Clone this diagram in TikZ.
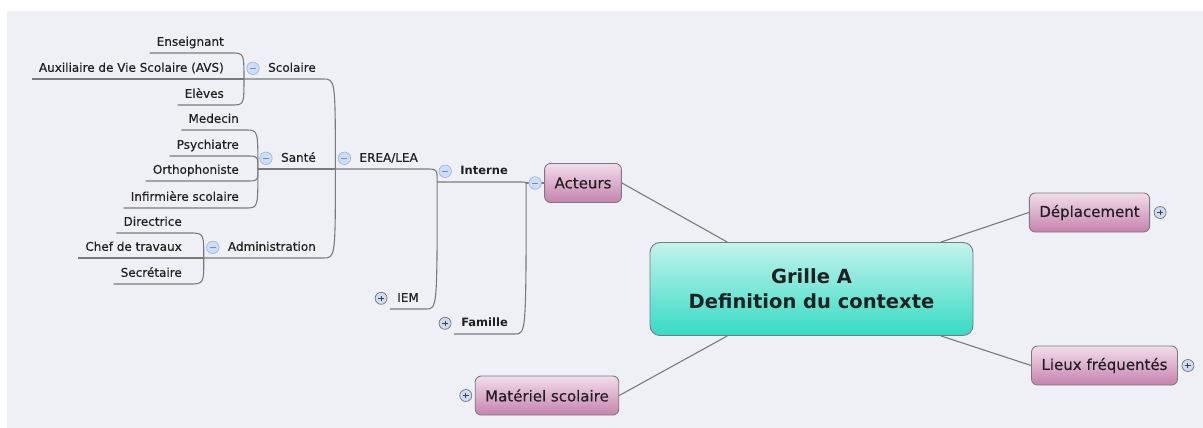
\documentclass[tikz,border=0pt]{standalone}
\usepackage{fontspec}
\setmainfont{DejaVu Sans}[UprightFeatures={FakeBold=0.3}]
\usepackage{tikz}
\usetikzlibrary{positioning, calc}
\definecolor{canvas}{HTML}{EFF0F5}
\definecolor{wire}{HTML}{7A7A7A}
\definecolor{ink}{HTML}{202020}
\definecolor{pinktop}{HTML}{F2DDEA}
\definecolor{pinkbot}{HTML}{C682AE}
\definecolor{tealtop}{HTML}{C2F3EC}
\definecolor{tealbot}{HTML}{36DBC4}
\definecolor{rim}{HTML}{7A7A7A}
\definecolor{foldfill}{HTML}{CDDDF6}
\definecolor{foldedge}{HTML}{9DB7E4}
\definecolor{foldsign}{HTML}{6F8CC6}

\tikzset{
  branch/.style={draw=wire, line width=1.1pt},
  topic/.style={draw=rim, line width=0.9pt, rounded corners=6pt, top color=pinktop,
                bottom color=pinkbot, text=ink, inner xsep=10pt, minimum height=39pt,
                font=\fontsize{15}{17}\selectfont},
  central/.style={draw=rim, line width=0.9pt, rounded corners=10pt, top color=tealtop,
                  bottom color=tealbot, text=ink, minimum width=323pt, minimum height=93pt,
                  align=center, font=\fontsize{19.5}{25}\selectfont\bfseries},
  leaf/.style={inner xsep=7pt, inner ysep=5pt, text height=9pt, text depth=2pt,
               text=ink, font=\fontsize{12}{14}\selectfont, anchor=south east},
  boldleaf/.style={leaf, font=\fontsize{11.5}{14}\selectfont\bfseries},
  foldminus/.style={circle, draw=foldedge, fill=foldfill, line width=0.7pt,
                    minimum size=12.5pt, inner sep=0pt,
                    path picture={\draw[foldsign, line width=1pt]
                      ([xshift=-3pt]path picture bounding box.center) --
                      ([xshift=3pt]path picture bounding box.center);}},
  foldplus/.style={circle, draw=black!55, fill=foldfill, line width=0.7pt,
                   minimum size=12pt, inner sep=0pt,
                   path picture={\draw[black!75, line width=0.9pt]
                     ([xshift=-2.8pt]path picture bounding box.center) --
                     ([xshift=2.8pt]path picture bounding box.center)
                     ([yshift=-2.8pt]path picture bounding box.center) --
                     ([yshift=2.8pt]path picture bounding box.center);}}
}

\begin{document}
\begin{tikzpicture}[x=1pt, y=-1pt]
  \useasboundingbox (0,0) rectangle (1203,428);
  \fill[canvas] (7,11) rectangle (1203,428);

  % main topics
  \node[central] (grille) at (811.5,289) {Grille A\\Definition du contexte};
  \node[topic] (acteurs) at (583,183) {Acteurs};
  \node[topic] (deplacement) at (1089.5,212.5) {Déplacement};
  \node[topic] (lieux) at (1104.5,365.5) {Lieux fréquentés};
  \node[topic] (materiel) at (547,395.5) {Matériel scolaire};

  \draw[branch] (acteurs.east) -- ($(grille.north west)!0.24!(grille.north east)$);
  \draw[branch] (deplacement.west) -- ($(grille.north west)!0.9!(grille.north east)$);
  \draw[branch] (lieux.west) -- ($(grille.south west)!0.9!(grille.south east)$);
  \draw[branch] (materiel.east) -- ($(grille.south west)!0.24!(grille.south east)$);

  \node[foldplus] (deplacement-fold) at ([xshift=10pt]deplacement.east) {};
  \node[foldplus] (lieux-fold) at ([xshift=10pt]lieux.east) {};
  \node[foldplus] (materiel-fold) at ([xshift=-9pt]materiel.west) {};
  \coordinate (acteurs-j) at ([xshift=-18pt]acteurs.west);
  \draw[branch] (acteurs-j) -- (acteurs.west);
  \node[foldminus] (acteurs-fold) at ([xshift=-9pt]acteurs.west) {};

  % left subtree
  \node[boldleaf] (interne) at (515,182) {Interne};
  \node[boldleaf] (famille) at (515,334) {Famille};
  \coordinate (interne-j) at ([xshift=-16pt]interne.south west);

  \node[leaf] (erea) at (425,169) {EREA/LEA};
  \node[leaf] (iem) at (426,309) {IEM};
  \coordinate (erea-j) at ([xshift=-17pt]erea.south west);

  \node[leaf] (scolaire) at (323,79) {Scolaire};
  \node[leaf] (sante) at (323,169) {Santé};
  \node[leaf] (admin) at (323,258) {Administration};
  \coordinate (scolaire-j) at ([xshift=-17pt]scolaire.south west);
  \coordinate (sante-j) at ([xshift=-16pt]sante.south west);
  \coordinate (admin-j) at ([xshift=-17pt]admin.south west);

  \node[leaf] (enseignant) at (231,53) {Enseignant};
  \node[leaf] (avs) at (231,79) {Auxiliaire de Vie Scolaire (AVS)};
  \node[leaf] (eleves) at (231,105) {Elèves};

  \node[leaf] (medecin) at (246,130) {Medecin};
  \node[leaf] (psy) at (246,156) {Psychiatre};
  \node[leaf] (ortho) at (246,181) {Orthophoniste};
  \node[leaf] (infirmiere) at (246,208) {Infirmière scolaire};

  \node[leaf] (directrice) at (189,233) {Directrice};
  \node[leaf] (chef) at (189,258) {Chef de travaux};
  \node[leaf] (secretaire) at (189,284) {Secrétaire};

  % one path per child: tail under the fold button, underline, bend into parent
  \foreach \kid/\dad/\gap in {interne/acteurs/16, famille/acteurs/0, erea/interne/17,
      iem/interne/0, scolaire/erea/17, sante/erea/16, admin/erea/17,
      enseignant/scolaire/0, avs/scolaire/0, eleves/scolaire/0, medecin/sante/0,
      psy/sante/0, ortho/sante/0, infirmiere/sante/0, directrice/admin/0,
      chef/admin/0, secretaire/admin/0}
    \draw[branch] (\kid.south west) ++(-\gap,0) -- (\kid.south east)
      .. controls (\dad-j |- \kid.south east) .. (\dad-j);

  \foreach \n in {interne, erea, scolaire, sante, admin}
    \node[foldminus] (\n-fold) at ([xshift=-8pt]\n.west) {};
  \foreach \n in {famille, iem}
    \node[foldplus] (\n-fold) at ([xshift=-9pt]\n.west) {};
\end{tikzpicture}
\end{document}
